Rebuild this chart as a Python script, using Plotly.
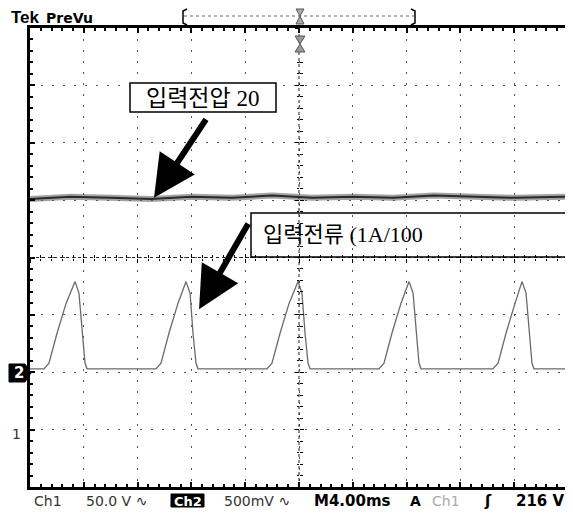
import plotly.graph_objects as go

# Ch1: input voltage (50 V/div), time in ms relative to trigger (4 ms/div)
time_ch1_ms = [-20, -17, -14, -11, -8, -5, -2, 1, 4, 7, 10, 13, 16, 20]
volt_ch1_V = [201, 203, 202, 201, 203, 202, 204, 202, 203, 202, 204, 203, 202, 203]

# Ch2: input current probe (500 mV/div)
time_ch2_ms = [-20.0,
               -18.96, -18.59, -17.99, -17.32, -16.65, -16.36, -16.13, -15.91, -15.76,
               -10.63, -10.26, -9.67, -9.00, -8.40, -8.10, -7.88, -7.66, -7.51,
               -2.38, -2.01, -1.41, -0.74, -0.07, 0.22, 0.45, 0.67, 0.82,
               5.95, 6.32, 6.91, 7.58, 8.18, 8.48, 8.70, 8.92, 9.07,
               14.42, 14.80, 15.39, 16.06, 16.58, 16.88, 17.10, 17.32, 17.47,
               20.0]
volt_ch2_V = [0.03,
              0.03, 0.08, 0.34, 0.60, 0.79, 0.69, 0.34, 0.08, 0.03,
              0.03, 0.08, 0.34, 0.60, 0.79, 0.69, 0.34, 0.08, 0.03,
              0.03, 0.08, 0.34, 0.60, 0.79, 0.69, 0.34, 0.08, 0.03,
              0.03, 0.08, 0.34, 0.60, 0.79, 0.69, 0.34, 0.08, 0.03,
              0.03, 0.08, 0.34, 0.60, 0.79, 0.69, 0.34, 0.08, 0.03,
              0.03]

# scope settings
x_range_ms = [-20, 20]
ch1_range_V = [-50, 350]
ch2_range_V = [-1, 3]
status_left = ["Ch1", "50.0 V ∿", "500mV ∿"]
status_right = ["M4.00ms", "A", "Ch1", "ʃ", "216 V"]
label_voltage = "입력전압 20"
label_current = "입력전류 (1A/100"

# ---------------- layout geometry (page pixels) ----------------
PAGE_OFF = 8                      # default body margin of the html page
W, H = 573 - PAGE_OFF, 517 - PAGE_OFF
PLOT_X0, PLOT_Y0 = 30, 28         # plot-area top-left on the page
PW, PH = 538, 459
L, T = PLOT_X0 - PAGE_OFF, PLOT_Y0 - PAGE_OFF
R, B = W - L - PW, H - T - PH


def px(x):
    return (x - PLOT_X0) / PW


def py(y):
    return 1 - (y - PLOT_Y0) / PH


def path(pts, close=False):
    s = "M " + " L ".join(f"{px(a):.5f},{py(b):.5f}" for a, b in pts)
    return s + (" Z" if close else "")


fig = go.Figure()

# Ch1 voltage trace (noisy thick band)
fig.add_trace(go.Scatter(x=time_ch1_ms, y=volt_ch1_V, mode="lines", line=dict(color="rgba(100,100,100,0.6)", width=6),
                         hoverinfo="skip"))
fig.add_trace(go.Scatter(x=time_ch1_ms, y=volt_ch1_V, mode="lines", line=dict(color="#2a2a2a", width=2),
                         name="Ch1"))
# Ch2 current trace
fig.add_trace(go.Scatter(x=time_ch2_ms, y=volt_ch2_V, mode="lines", yaxis="y2",
                         line=dict(color="#6a6a6a", width=1.3), name="Ch2"))

# empty traces to register crosshair tick axes
for xa, ya in [("x2", "y"), ("x3", "y"), ("x", "y3"), ("x", "y4")]:
    fig.add_trace(go.Scatter(x=[], y=[], xaxis=xa, yaxis=ya, hoverinfo="skip"))

grid = dict(showgrid=True, gridcolor="#555", gridwidth=1, griddash="2px,9px")
cross_common = dict(showgrid=False, showline=False, showticklabels=False, zeroline=False, tickcolor="black")
fig.update_layout(
    width=W, height=H,
    margin=dict(l=L, r=R, t=T, b=B, pad=0),
    paper_bgcolor="white", plot_bgcolor="white",
    showlegend=False,
    xaxis=dict(range=x_range_ms, dtick=4, tick0=0, **grid, showline=True, linecolor="black", linewidth=3,
               mirror="ticks", ticks="inside", ticklen=5, tickcolor="black", tickwidth=1.5,
               minor=dict(dtick=0.8, ticks="inside", ticklen=3, tickcolor="black", showgrid=False),
               showticklabels=False, zeroline=False),
    yaxis=dict(range=ch1_range_V, dtick=50, tick0=0, **grid, showline=True, linecolor="black", linewidth=3,
               ticks="inside", ticklen=5, tickcolor="black", tickwidth=1.5,
               minor=dict(dtick=10, ticks="inside", ticklen=3, tickcolor="black", showgrid=False),
               showticklabels=False, zeroline=False),
    yaxis2=dict(range=ch2_range_V, overlaying="y", visible=False),
    xaxis2=dict(range=x_range_ms, overlaying="x", anchor="free", position=0.5, ticks="inside", dtick=4, tick0=0,
                ticklen=4, minor=dict(dtick=0.8, ticks="inside", ticklen=2.5, tickcolor="black"), **cross_common),
    xaxis3=dict(range=x_range_ms, overlaying="x", anchor="free", position=0.5, ticks="outside", dtick=4, tick0=0,
                ticklen=4, minor=dict(dtick=0.8, ticks="outside", ticklen=2.5, tickcolor="black"), **cross_common),
    yaxis3=dict(range=ch1_range_V, overlaying="y", anchor="free", position=0.5, ticks="inside", dtick=50, tick0=0,
                ticklen=4, minor=dict(dtick=10, ticks="inside", ticklen=2.5, tickcolor="black"), **cross_common),
    yaxis4=dict(range=ch1_range_V, overlaying="y", anchor="free", position=0.5, ticks="outside", dtick=50, tick0=0,
                ticklen=4, minor=dict(dtick=10, ticks="outside", ticklen=2.5, tickcolor="black"), **cross_common),
)

shapes = []
# center crosshair (dotted)
shapes.append(dict(type="line", xref="x", yref="paper", x0=0, x1=0, y0=0, y1=1,
                   line=dict(color="#222", width=1, dash="dot")))
shapes.append(dict(type="line", xref="paper", yref="paper", x0=0, x1=1, y0=0.5, y1=0.5,
                   line=dict(color="#222", width=1, dash="dot")))
# right dotted border
shapes.append(dict(type="line", xref="paper", yref="paper", x0=1, x1=1, y0=0, y1=1,
                   line=dict(color="#555", width=1.5, dash="dot")))
# record view bracket at top
shapes.append(dict(type="path", xref="paper", yref="paper", path=path([(187, 9), (183, 11), (183, 23), (187, 25)]),
                   line=dict(color="black", width=1.5)))
shapes.append(dict(type="path", xref="paper", yref="paper", path=path([(411, 9), (415, 11), (415, 23), (411, 25)]),
                   line=dict(color="black", width=1.5)))
shapes.append(dict(type="line", xref="paper", yref="paper", x0=px(184), x1=px(414), y0=py(16), y1=py(16),
                   line=dict(color="#666", width=1, dash="dot")))
shapes.append(dict(type="path", xref="paper", yref="paper",
                   path=path([(296, 9), (304, 9), (300, 16), (304, 24), (296, 24), (300, 16)], close=True),
                   fillcolor="#aaa", line=dict(color="#555", width=1)))
# trigger position marker below top border
shapes.append(dict(type="path", xref="paper", yref="paper",
                   path=path([(295, 36), (305, 36), (300, 44), (305, 52), (295, 52), (300, 44)], close=True),
                   fillcolor="#999", line=dict(color="#555", width=1)))
# Ch2 ground marker
shapes.append(dict(type="path", xref="paper", yref="paper",
                   path=path([(9, 364), (25, 364), (31, 373), (25, 382), (9, 382)], close=True),
                   fillcolor="black", line=dict(color="black", width=1)))
# Ch2 status box
shapes.append(dict(type="rect", xref="paper", yref="paper", x0=px(171), x1=px(204), y0=py(507), y1=py(494),
                   fillcolor="black", line=dict(color="black", width=1)))
# label boxes
shapes.append(dict(type="rect", xref="paper", yref="paper", x0=px(130), x1=px(276), y0=py(112), y1=py(83),
                   fillcolor="white", line=dict(color="black", width=1.5)))
shapes.append(dict(type="rect", xref="paper", yref="paper", x0=px(251), x1=px(585), y0=py(257), y1=py(213),
                   fillcolor="rgba(0,0,0,0)", line=dict(color="black", width=1.5)))
fig.update_layout(shapes=shapes)

ann = []


def text(x, y, s, size=14, color="#222", family="DejaVu Sans", bold=False, xanchor="left"):
    ann.append(dict(x=px(x), y=py(y), xref="paper", yref="paper", text=f"<b>{s}</b>" if bold else s,
                    showarrow=False, xanchor=xanchor, yanchor="middle",
                    font=dict(size=size, color=color, family=family)))


text(9, 18, "Tek", size=17, color="black", family="Liberation Sans", bold=True)
text(44, 18, "PreVu", size=14, color="black", family="DejaVu Sans", bold=True)
text(19, 373, "2", size=15, color="white", bold=True, xanchor="center")
text(16, 434, "1", size=14, color="#333", xanchor="center")

# status line
text(32, 501, status_left[0], size=14, color="#333")
text(84, 501, status_left[1], size=14, color="#333")
text(187.5, 501, "Ch2", size=13, color="white", bold=True, xanchor="center")
text(222, 501, status_left[2], size=14, color="#333")
text(312, 501, status_right[0], size=15, color="black", bold=True)
text(408, 501, status_right[1], size=14, color="black", bold=True)
text(430, 501, status_right[2], size=14, color="#aaa")
text(488, 501, status_right[3], size=15, color="black", bold=True, xanchor="center")
text(567, 501, status_right[4], size=15, color="black", bold=True, xanchor="right")

# Korean labels
kfont = "Liberation Serif, Noto Sans CJK KR"
text(202, 98, label_voltage, size=23, color="black", family=kfont, xanchor="center")
text(261, 234, label_current, size=22, color="black", family=kfont)

# arrows
ann.append(dict(x=-10.78, y=202, xref="x", yref="y", ax=53, ay=-80, axref="pixel", ayref="pixel", text="",
                showarrow=True, arrowhead=2, arrowwidth=6, arrowsize=1.4, arrowcolor="black"))
ann.append(dict(x=-7.43, y=0.55, xref="x", yref="y2", ax=50, ay=-87, axref="pixel", ayref="pixel", text="",
                showarrow=True, arrowhead=2, arrowwidth=6, arrowsize=1.4, arrowcolor="black"))
fig.update_layout(annotations=ann)

fig.write_html("out.html")
